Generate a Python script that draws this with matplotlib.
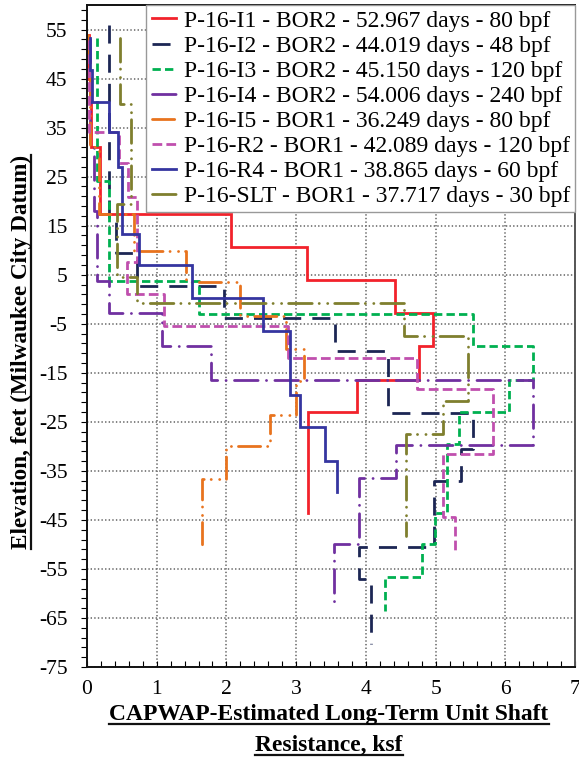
import matplotlib.pyplot as plt
import numpy as np
from matplotlib.ticker import MultipleLocator, FixedLocator
from matplotlib.lines import Line2D

plt.rcParams['font.family'] = ['Liberation Serif', 'DejaVu Serif']
plt.rcParams['lines.scale_dashes'] = False
plt.rcParams['axes.unicode_minus'] = False

# 各桩的分层边界（高程, ft）与每层单位侧摩阻力（ksf）
elev_i1 = [53.8, 45.0, 31.0, 17.4, 10.6, 4.0, -2.8, -9.6, -16.4, -23.0, -43.5]
shaft_i1 = [0.03, 0.06, 0.19, 2.06, 3.16, 4.42, 4.96, 4.76, 3.88, 3.17]

elev_i2 = [56.0, 16.2, 9.4, 2.7, -3.9, -10.5, -23.2, -30.5, -37.0, -50.6, -57.0, -70.3]
shaft_i2 = [0.32, 0.41, 0.72, 1.97, 3.56, 4.32, 5.54, 5.36, 4.98, 3.90, 4.08]

elev_i3 = [53.2, 24.2, 3.7, -3.0, -9.6, -16.4, -23.0, -29.6, -43.5, -50.0, -56.7, -63.5]
shaft_i3 = [0.14, 0.31, 1.61, 5.53, 6.40, 6.06, 5.33, 5.17, 4.99, 4.80, 4.27]

elev_i4 = [53.0, 31.0, 18.0, 3.7, -2.9, -9.6, -16.4, -29.8, -36.4, -49.9, -63.2]
shaft_i4 = [0.05, 0.10, 0.14, 0.32, 1.07, 1.78, 6.40, 4.43, 3.90, 3.54]

elev_i5 = [53.9, 48.4, 31.0, 17.3, 9.8, 3.5, -3.5, -10.1, -16.6, -23.6, -30.0, -36.6, -50.3]
shaft_i5 = [0.02, 0.05, 0.17, 0.67, 1.42, 2.20, 2.86, 3.11, 3.00, 2.63, 2.00, 1.65]

elev_r2 = [52.8, 34.1, 27.7, 20.9, 7.6, 1.1, -5.4, -11.9, -18.4, -31.6, -44.5, -51.3]
shaft_r2 = [0.03, 0.46, 0.59, 0.72, 0.58, 1.10, 2.89, 4.74, 5.82, 5.10, 5.28]

elev_r4 = [53.2, 46.7, 40.2, 34.1, 27.0, 13.4, 6.9, 0.2, -6.4, -19.6, -26.1, -33.0, -39.4]
shaft_r4 = [0.04, 0.07, 0.32, 0.44, 0.50, 0.75, 1.51, 2.52, 2.91, 3.06, 3.41, 3.58]

elev_slt = [53.3, 39.9, 19.5, 4.5, -0.7, -7.4, -20.8, -27.5, -48.2]
shaft_slt = [0.47, 0.63, 0.43, 0.72, 4.55, 5.46, 5.10, 4.58]

labels = ['P-16-I1 - BOR2 - 52.967 days - 80 bpf',
          'P-16-I2 - BOR2 - 44.019 days - 48 bpf',
          'P-16-I3 - BOR2 - 45.150 days - 120 bpf',
          'P-16-I4 - BOR2 - 54.006 days - 240 bpf',
          'P-16-I5 - BOR1 - 36.249 days - 80 bpf',
          'P-16-R2 - BOR1 - 42.089 days - 120 bpf',
          'P-16-R4 - BOR1 - 38.865 days - 60 bpf',
          'P-16-SLT - BOR1 - 37.717 days - 30 bpf']

series = [(elev_i1, shaft_i1), (elev_i2, shaft_i2), (elev_i3, shaft_i3),
          (elev_i4, shaft_i4), (elev_i5, shaft_i5), (elev_r2, shaft_r2),
          (elev_r4, shaft_r4), (elev_slt, shaft_slt)]

colors = ['#f2222b', '#1c2654', '#00b050', '#7030a0',
          '#e8731e', '#c04fae', '#3535a0', '#7f7f2e']
# 线型（单位 pt）：None 为实线
dashes = [None, (13, 8), (6, 3), (17, 6, 0.1, 6),
          (16, 5, 0.1, 6, 0.1, 5), (7, 3), None, (17, 5, 0.1, 6, 0.1, 5)]
caps = ['butt', 'butt', 'butt', 'round', 'round', 'butt', 'butt', 'round']


def profile(elev, shaft):
    # 阶梯剖面：每层内阻力恒定，层界处水平过渡
    y = np.repeat(elev, 2)[1:-1]
    x = np.repeat(shaft, 2)
    return x, y


fig = plt.figure(figsize=(5.79, 7.61), dpi=100)
ax = fig.add_axes([87 / 579, 1 - 667 / 761, 488 / 579, 662 / 761])

for (elev, shaft), lab, c, d, cap in zip(series, labels, colors, dashes, caps):
    x, y = profile(elev, shaft)
    ln, = ax.plot(x, y, color=c, lw=2.0, label=lab, solid_joinstyle='miter')
    if d is not None:
        ln.set_dashes(d)
        ln.set_dash_capstyle(cap)

ax.set_xlim(0, 7)
ax.set_ylim(-75, 60)
ax.xaxis.set_major_locator(MultipleLocator(1))
ax.xaxis.set_minor_locator(MultipleLocator(0.2))
ax.set_yticks(np.arange(-75, 56, 10))
ax.yaxis.set_minor_locator(FixedLocator(np.arange(-75, 60, 2)))
ax.tick_params(axis='x', which='both', direction='in', length=4, width=0.8,
               pad=9, labelsize=15.5)
ax.tick_params(axis='y', which='both', direction='out', length=4, width=0.8,
               pad=10, labelsize=15.5)
ax.grid(True, which='major', color='#7a7a7a', lw=1.3, linestyle=(0, (1, 1.6)))
ax.set_axisbelow(True)
for s in ['left', 'bottom', 'top']:
    ax.spines[s].set_linewidth(1.4)
    ax.spines[s].set_color('#111111')
ax.spines['right'].set_linewidth(1.4)
ax.spines['right'].set_color('#555555')

leg = ax.legend(loc='upper right', bbox_to_anchor=(1, 1), borderaxespad=0,
                fontsize=17, fancybox=False, framealpha=1, edgecolor='#999999',
                labelspacing=0.15, handlelength=1.05, handletextpad=0.3,
                borderpad=0.22)
leg.get_frame().set_linewidth(1.0)

# 坐标轴标题（加粗并带下划线）
x_base = [720, 751]
tx1 = fig.text(329 / 579, 1 - x_base[0] / 761, 'CAPWAP-Estimated Long-Term Unit Shaft',
               ha='center', va='baseline', fontsize=16.9, fontweight='bold')
tx2 = fig.text(329 / 579, 1 - x_base[1] / 761, 'Resistance, ksf',
               ha='center', va='baseline', fontsize=16.9, fontweight='bold')
ty = fig.text(27 / 579, 1 - 352 / 761, 'Elevation, feet (Milwaukee City Datum)',
              ha='center', va='baseline', rotation=90, fontsize=16.7,
              fontweight='bold', rotation_mode='anchor')

fig.canvas.draw()
r = fig.canvas.get_renderer()
W, H = fig.bbox.width, fig.bbox.height
for t, base in zip((tx1, tx2), x_base):
    bb = t.get_window_extent(r)
    yb = (761 - base) - 3.5
    fig.add_artist(Line2D([bb.x0 / W, bb.x1 / W], [yb / H, yb / H],
                          color='#111111', lw=1.6, transform=fig.transFigure))
bb = ty.get_window_extent(r)
fig.add_artist(Line2D([(27 + 3.5) / W, (27 + 3.5) / W], [bb.y0 / H, bb.y1 / H],
                      color='#111111', lw=1.6, transform=fig.transFigure))

fig.savefig('out.png', dpi=100, facecolor='white')
